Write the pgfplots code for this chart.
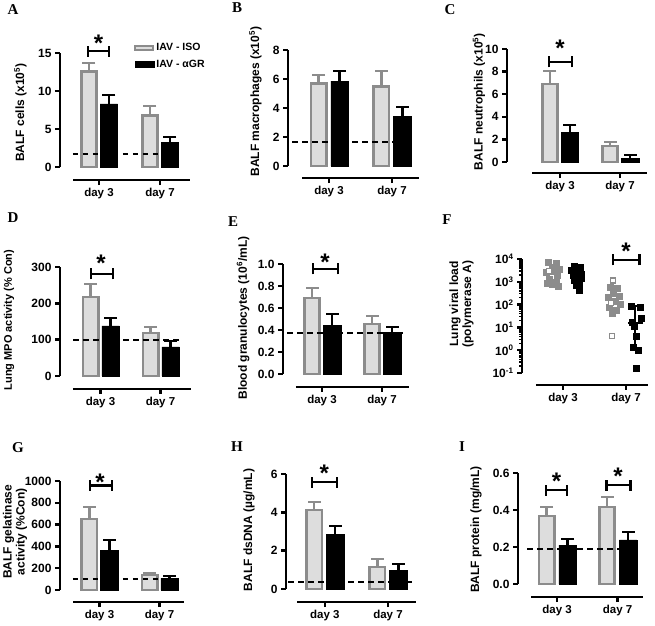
\documentclass[border=0pt]{standalone}
\usepackage{fontspec}
\setmainfont{Liberation Sans}
\newfontfamily\timesfont{Liberation Serif}
\usepackage{pgfplots}
\pgfplotsset{compat=1.18}

\definecolor{isoedge}{RGB}{140,140,140}
\definecolor{isofill}{RGB}{221,221,221}

\tikzset{axl/.style={line width=2.6pt, black}}
\pgfplotsset{
 prism/.style={scale only axis, clip=false, anchor=south west, axis line style={draw=none},
  tick align=outside, xtick pos=bottom, ytick pos=left, major tick length=5pt,
  tick style={line width=2.4pt, black},
  xtick={1,2}, xticklabels={day 3, day 7},
  x tick label style={font=\bfseries\fontsize{11.5}{13}\selectfont},
  y tick label style={font=\bfseries\fontsize{12}{14}\selectfont},
  ylabel style={font=\bfseries\fontsize{12}{13}\selectfont, anchor=center, align=center},
  /pgf/number format/assume math mode=true, /pgf/number format/1000 sep={},
  scaled y ticks=false},
 iso/.style={ybar, bar width=15.4pt, bar shift=-10pt, draw=isoedge, fill=isofill, line width=2.6pt},
 gr/.style={ybar, bar width=17.5pt, bar shift=10pt, draw=black, fill=black, line width=0.5pt},
 base/.style={black, line width=2.2pt, dash pattern=on 5.5pt off 4.5pt},
}

% error bar: colour, shift, x, value, top
\newcommand\eb[5]{\addplot[#1, line width=2.2pt, xshift=#2, mark=-, mark size=6.5pt, mark indices={2}, mark options={line width=2.2pt}] coordinates {(#3,#4) (#3,#5)};}

\newcommand\sig[5]{%
 \draw[line width=2.4pt] (axis cs:#1,#3) -- (axis cs:#2,#3);
 \draw[line width=2.4pt] ([yshift=-5.5pt]axis cs:#1,#3) -- ([yshift=5.5pt]axis cs:#1,#3);
 \draw[line width=2.4pt] ([yshift=-5.5pt]axis cs:#2,#3) -- ([yshift=5.5pt]axis cs:#2,#3);
 \node[font=\bfseries\fontsize{24}{24}\selectfont, inner sep=0pt, yshift=#4] at (axis cs:#5,#3) {*};}

\begin{document}
\begin{tikzpicture}
\useasboundingbox (0,0) rectangle (655pt,625pt);

% ---------------- A
\begin{axis}[prism, at={(60pt,445pt)}, width=130pt, height=127pt,
  xmin=0.361, xmax=2.492, ymin=-1.711, ymax=15, ytick={0,5,10,15},
  ylabel={BALF cells (x10\textsuperscript{5})},
  ylabel style={at={(axis description cs:-0.304,0.531)}},
  legend style={draw=none, fill=none, at={(axis description cs:0.569,1.095)}, anchor=north west,
    inner sep=0pt, row sep=4pt, font=\bfseries\fontsize{10.5}{12}\selectfont},
  legend cell align=left]
\addlegendimage{legend image code/.code={\draw[draw=isoedge,fill=isofill,line width=2pt] (0pt,-2pt) rectangle (18pt,2pt);}}
\addlegendentry{IAV - ISO}
\addlegendimage{legend image code/.code={\draw[draw=black,fill=black,line width=0.5pt] (0.5pt,-3pt) rectangle (19pt,3pt);}}
\addlegendentry{IAV - αGR}
\draw[axl] (axis cs:0.361,0) -- (axis cs:0.361,15);
\draw[axl] (rel axis cs:0.10,0) -- (rel axis cs:1,0);
\addplot[iso] coordinates {(1,12.6) (2,6.8)};
\addplot[gr] coordinates {(1,8.3) (2,3.2)};
\eb{isoedge}{-10pt}{1}{12.6}{13.7}
\eb{isoedge}{-10pt}{2}{6.8}{8.0}
\eb{black}{10pt}{1}{8.3}{9.5}
\eb{black}{10pt}{2}{3.2}{3.9}
\addplot[base] coordinates {(0.574,1.7) (2.36,1.7)};
\sig{0.82}{1.164}{15.26}{8pt}{0.992}
\end{axis}

% ---------------- B
\begin{axis}[prism, at={(288pt,447pt)}, width=131pt, height=128pt,
  xmin=0.349, xmax=2.429, ymin=-0.828, ymax=8, ytick={0,2,4,6,8},
  ylabel={BALF macrophages (x10\textsuperscript{5})},
  ylabel style={at={(axis description cs:-0.248,0.596)}}]
\draw[axl] (axis cs:0.349,0) -- (axis cs:0.349,8);
\draw[axl] (rel axis cs:0.107,0) -- (rel axis cs:1,0);
\addplot[iso, bar shift=-10.5pt] coordinates {(1,5.7) (2,5.5)};
\addplot[gr, bar shift=10.5pt] coordinates {(1,5.86) (2,3.4)};
\eb{isoedge}{-10.5pt}{1}{5.7}{6.3}
\eb{isoedge}{-10.5pt}{2}{5.5}{6.55}
\eb{black}{10.5pt}{1}{5.86}{6.55}
\eb{black}{10.5pt}{2}{3.4}{4.07}
\addplot[base] coordinates {(0.413,1.66) (2.048,1.66)};
\end{axis}

% ---------------- C
\begin{axis}[prism, at={(507pt,452pt)}, width=140pt, height=124pt,
  xmin=0.117, xmax=2.45, ymin=-0.973, ymax=10, ytick={0,2,4,6,8,10},
  ylabel={BALF neutrophils (x10\textsuperscript{5})},
  ylabel style={at={(axis description cs:-0.2,0.575)}}]
\draw[axl] (axis cs:0.117,0) -- (axis cs:0.117,10);
\draw[axl] (rel axis cs:0.179,0) -- (rel axis cs:1,0);
\addplot[iso] coordinates {(1,6.9) (2,1.4)};
\addplot[gr] coordinates {(1,2.65) (2,0.35)};
\eb{isoedge}{-10pt}{1}{6.9}{8.05}
\eb{isoedge}{-10pt}{2}{1.4}{1.77}
\eb{black}{10pt}{1}{2.65}{3.27}
\eb{black}{10pt}{2}{0.35}{0.62}
\sig{0.817}{1.2}{8.85}{13.7pt}{1.0}
\end{axis}

% ---------------- D
\begin{axis}[prism, at={(60pt,236pt)}, width=131pt, height=122pt,
  xmin=0.325, xmax=2.508, ymin=-35.8, ymax=300, ytick={0,100,200,300},
  ylabel={Lung MPO activity (\% Con)},
  ylabel style={font=\bfseries\fontsize{11}{12}\selectfont, at={(axis description cs:-0.389,0.566)}}]
\draw[axl] (axis cs:0.325,0) -- (axis cs:0.325,300);
\draw[axl] (rel axis cs:0.099,0) -- (rel axis cs:1,0);
\addplot[iso] coordinates {(1,217) (2,118)};
\addplot[gr] coordinates {(1,138) (2,80)};
\eb{isoedge}{-10pt}{1}{217}{253}
\eb{isoedge}{-10pt}{2}{118}{135}
\eb{black}{10pt}{1}{138}{160}
\eb{black}{10pt}{2}{80}{97}
\addplot[base] coordinates {(0.542,100) (2.325,100)};
\sig{0.842}{1.208}{280.8}{11pt}{1.008}
\end{axis}

% ---------------- E
\begin{axis}[prism, at={(283pt,238pt)}, width=126pt, height=123pt,
  xmin=0.35, xmax=2.45, ymin=-0.118, ymax=1, ytick={0,0.2,0.4,0.6,0.8,1},
  /pgf/number format/fixed, /pgf/number format/fixed zerofill, /pgf/number format/precision=1,
  ylabel={Blood granulocytes (10\textsuperscript{6}/mL)},
  ylabel style={at={(axis description cs:-0.317,0.561)}}]
\draw[axl] (axis cs:0.35,0) -- (axis cs:0.35,1);
\draw[axl] (rel axis cs:0.103,0) -- (rel axis cs:1,0);
\addplot[iso] coordinates {(1,0.69) (2,0.455)};
\addplot[gr] coordinates {(1,0.44) (2,0.38)};
\eb{isoedge}{-10pt}{1}{0.69}{0.78}
\eb{isoedge}{-10pt}{2}{0.455}{0.53}
\eb{black}{10pt}{1}{0.44}{0.545}
\eb{black}{10pt}{2}{0.38}{0.43}
\addplot[base] coordinates {(0.417,0.375) (2.417,0.375)};
\sig{0.85}{1.267}{0.955}{7pt}{1.05}
\end{axis}

% ---------------- F
\begin{axis}[prism, ymode=log, log basis y=10, at={(522pt,240pt)}, width=126pt, height=126pt,
  xmin=0.349, xmax=2.349, ymin=0.0298, ymax=10000,
  ytick={0.1,1,10,100,1000,10000},
  yticklabels={10\textsuperscript{-1},10\textsuperscript{0},10\textsuperscript{1},10\textsuperscript{2},10\textsuperscript{3},10\textsuperscript{4}},
  minor ytick={0.2,0.3,0.4,0.5,0.6,0.7,0.8,0.9,2,3,4,5,6,7,8,9,20,30,40,50,60,70,80,90,200,300,400,500,600,700,800,900,2000,3000,4000,5000,6000,7000,8000,9000},
  minor tick length=3pt, minor tick style={line width=1.5pt, black},
  ylabel={Lung viral load\\(polymerase A)},
  ylabel style={at={(axis description cs:-0.48,0.643)}}]
\draw[axl] (axis cs:0.349,0.1) -- (axis cs:0.349,10000);
\draw[axl] (rel axis cs:0.111,0) -- (rel axis cs:1,0);
\addplot[only marks, mark=square*, mark size=3pt, isoedge, mark options={line width=0.6pt}] coordinates {
 (0.762,7079) (0.889,6310) (0.825,4467) (0.937,3548) (0.730,2512) (0.905,1995) (0.778,1259)
 (0.889,1000) (0.825,794) (0.921,631) (0.746,891) (0.841,2818)};
\addplot[only marks, mark=square*, mark size=2.6pt, mark options={fill=white, draw=isoedge, line width=1.6pt}] coordinates {(0.78,3000)};
\addplot[white, line width=1.5pt] coordinates {(0.73,1780) (0.95,1780)};
\addplot[only marks, mark=square*, mark size=3pt, black, mark options={line width=0.6pt}] coordinates {
 (1.175,4786) (1.27,4169) (1.127,3162) (1.238,2818) (1.294,2239) (1.159,1995) (1.222,1585)
 (1.286,1413) (1.175,1122) (1.254,891) (1.206,708) (1.254,417)};
\addplot[only marks, mark=square*, mark size=3pt, isoedge, mark options={line width=0.6pt}] coordinates {
 (1.746,562) (1.857,501) (1.794,316) (1.889,224) (1.714,200) (1.825,141) (1.905,100)
 (1.730,79) (1.841,56) (1.778,40)};
\addplot[only marks, mark=square*, mark size=2.6pt, mark options={fill=white, draw=isoedge, line width=1.6pt}] coordinates {(1.794,1122) (1.778,4.2) (1.762,120)};
\addplot[white, line width=1.5pt] coordinates {(1.72,115) (1.92,115)};
\addplot[only marks, mark=square*, mark size=3pt, black, mark options={line width=0.6pt}] coordinates {
 (2.090,87) (2.222,76) (2.238,25) (2.100,16) (2.127,11) (2.159,4.2) (2.116,1.41) (2.195,1.0) (2.159,0.16)};
\addplot[black, line width=2pt] coordinates {(2.03,16) (2.27,16)};
\addplot[black, line width=2pt] coordinates {(2.143,1) (2.143,87)};
\addplot[black, line width=2pt] coordinates {(2.10,87) (2.19,87)};
\addplot[black, line width=2pt] coordinates {(2.10,1) (2.19,1)};
\sig{1.789}{2.211}{9040}{8.6pt}{2.0}
\end{axis}

% ---------------- G
\begin{axis}[prism, at={(60pt,23pt)}, width=124pt, height=121pt,
  xmin=0.342, xmax=2.408, ymin=-110, ymax=1000, ytick={0,200,400,600,800,1000},
  ylabel={BALF gelatinase\\activity (\%Con)},
  ylabel style={at={(axis description cs:-0.363,0.579)}}]
\draw[axl] (axis cs:0.342,0) -- (axis cs:0.342,1000);
\draw[axl] (rel axis cs:0.105,0) -- (rel axis cs:1,0);
\addplot[iso] coordinates {(1,651) (2,138)};
\addplot[gr] coordinates {(1,367) (2,107)};
\eb{isoedge}{-10pt}{1}{651}{762}
\eb{isoedge}{-10pt}{2}{138}{159}
\eb{black}{10pt}{1}{367}{459}
\eb{black}{10pt}{2}{107}{131}
\addplot[base] coordinates {(0.558,100) (2.342,100)};
\sig{0.842}{1.208}{960}{3.3pt}{1.008}
\end{axis}

% ---------------- H
\begin{axis}[prism, at={(286pt,23pt)}, width=130pt, height=128pt,
  xmin=0.385, xmax=2.444, ymin=-0.678, ymax=6, ytick={0,2,4,6},
  ylabel={BALF dsDNA (µg/mL)},
  ylabel style={at={(axis description cs:-0.285,0.5625)}}]
\draw[axl] (axis cs:0.385,0) -- (axis cs:0.385,6);
\draw[axl] (rel axis cs:0.085,0) -- (rel axis cs:1,0);
\addplot[iso, bar shift=-10.5pt] coordinates {(1,4.12) (2,1.15)};
\addplot[gr, bar shift=10.5pt] coordinates {(1,2.87) (2,0.99)};
\eb{isoedge}{-10.5pt}{1}{4.12}{4.54}
\eb{isoedge}{-10.5pt}{2}{1.15}{1.56}
\eb{black}{10.5pt}{1}{2.87}{3.29}
\eb{black}{10.5pt}{2}{0.99}{1.3}
\addplot[base] coordinates {(0.417,0.37) (2.381,0.37)};
\sig{0.798}{1.194}{5.58}{8.6pt}{0.99}
\end{axis}

% ---------------- I
\begin{axis}[prism, at={(518pt,28pt)}, width=125pt, height=124pt,
  xmin=0.355, xmax=2.421, ymin=-0.0703, ymax=0.6, ytick={0,0.2,0.4,0.6},
  /pgf/number format/fixed, /pgf/number format/fixed zerofill, /pgf/number format/precision=1,
  ylabel={BALF protein (mg/mL)},
  ylabel style={at={(axis description cs:-0.336,0.544)}}]
\draw[axl] (axis cs:0.355,0) -- (axis cs:0.355,0.6);
\draw[axl] (rel axis cs:0.104,0) -- (rel axis cs:1,0);
\addplot[iso, bar shift=-10.5pt] coordinates {(1,0.368) (2,0.416)};
\addplot[gr, bar shift=10.5pt] coordinates {(1,0.21) (2,0.238)};
\eb{isoedge}{-10.5pt}{1}{0.368}{0.416}
\eb{isoedge}{-10.5pt}{2}{0.416}{0.47}
\eb{black}{10.5pt}{1}{0.21}{0.243}
\eb{black}{10.5pt}{2}{0.238}{0.281}
\addplot[base] coordinates {(0.504,0.19) (2.074,0.19)};
\sig{0.818}{1.165}{0.508}{8.6pt}{0.99}
\sig{1.818}{2.215}{0.535}{8.6pt}{2.01}
\end{axis}

% panel letters
\node[font=\timesfont\bfseries\fontsize{15}{15}\selectfont] at (13pt,615pt) {A};
\node[font=\timesfont\bfseries\fontsize{15}{15}\selectfont] at (237pt,617pt) {B};
\node[font=\timesfont\bfseries\fontsize{15}{15}\selectfont] at (450pt,615pt) {C};
\node[font=\timesfont\bfseries\fontsize{15}{15}\selectfont] at (13pt,407pt) {D};
\node[font=\timesfont\bfseries\fontsize{15}{15}\selectfont] at (233pt,403pt) {E};
\node[font=\timesfont\bfseries\fontsize{15}{15}\selectfont] at (447pt,405pt) {F};
\node[font=\timesfont\bfseries\fontsize{15}{15}\selectfont] at (18pt,177pt) {G};
\node[font=\timesfont\bfseries\fontsize{15}{15}\selectfont] at (237pt,178pt) {H};
\node[font=\timesfont\bfseries\fontsize{15}{15}\selectfont] at (462pt,178pt) {I};
\end{tikzpicture}
\end{document}
